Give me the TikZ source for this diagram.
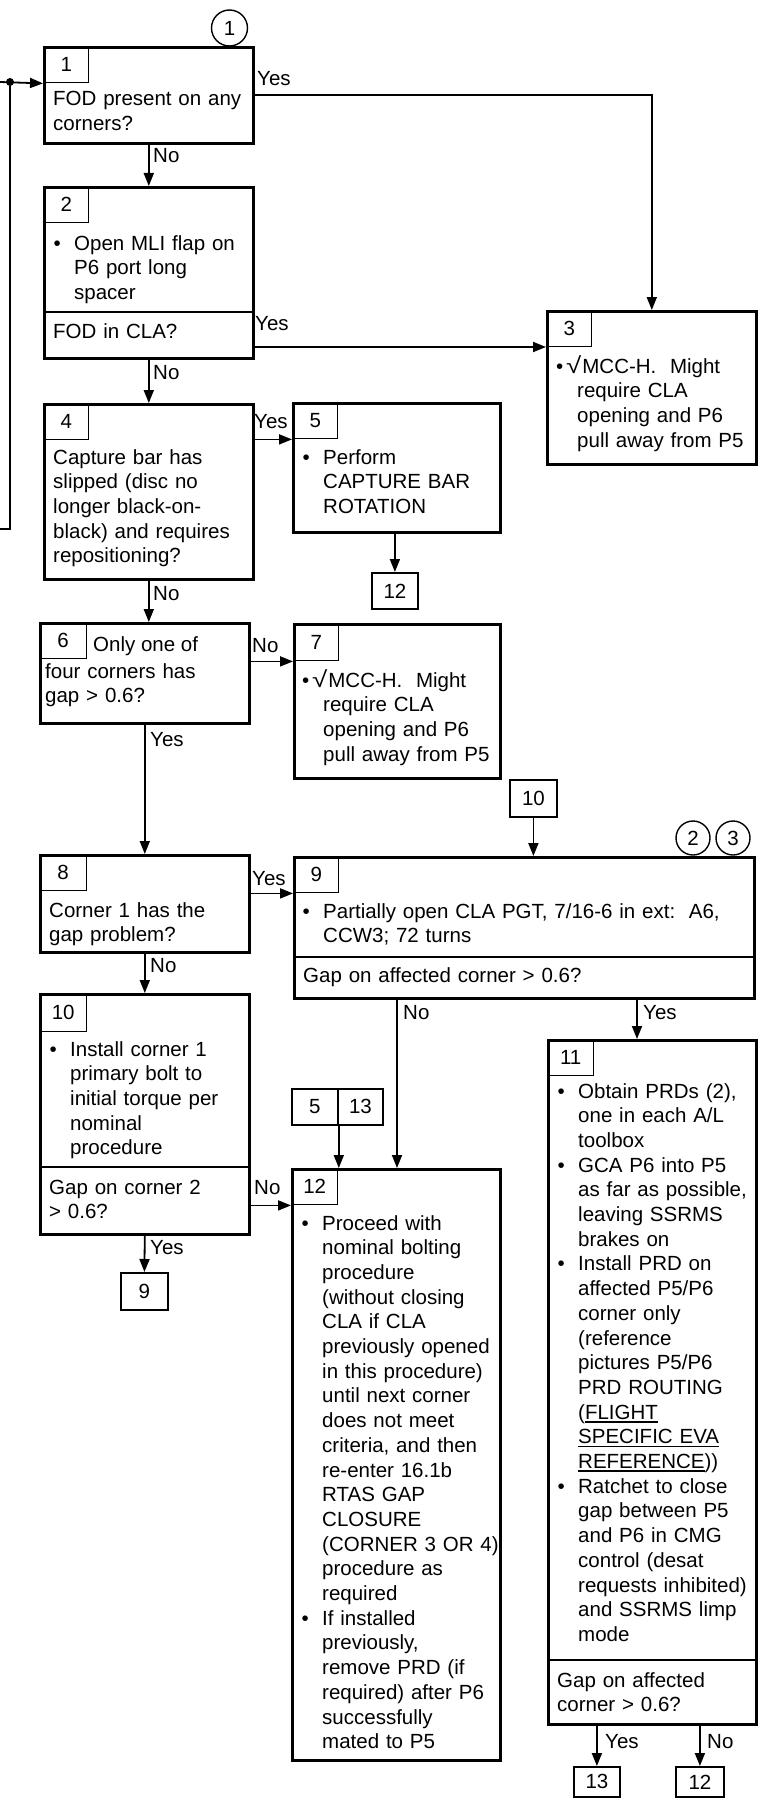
\documentclass[tikz,border=0pt]{standalone}
\usepackage{fontspec}
\usepackage{graphicx}
\setmainfont{Liberation Sans}
\usetikzlibrary{arrows.meta}
\newcommand\myul[1]{\leavevmode\setbox0=\hbox{#1}\rlap{\rule[-3.5pt]{\wd0}{1.6pt}}\box0}
\newcommand\bul{\leavevmode\llap{•\hspace{13.3pt}}}
\newcommand\chk{\leavevmode\hspace*{-21pt}\makebox[10pt][l]{•}\scalebox{1.35}[1.1]{√}\hspace{1pt}}
\begin{document}
\begin{tikzpicture}[x=1pt,y=-1pt,line join=miter,
  font=\fontsize{20.5}{24.7}\selectfont,
  box/.style={draw,line width=2.6pt,inner sep=0pt,anchor=north west},
  tabx/.style={draw,line width=1.4pt,inner sep=0pt,anchor=north west,minimum width=45pt,minimum height=36pt},
  ref/.style={draw,line width=1.8pt,inner sep=0pt,anchor=north west,minimum width=46pt,minimum height=36pt},
  txt/.style={anchor=base west,inner sep=0pt,text width=450pt,align=left},
  lbl/.style={anchor=base west,inner sep=0pt},
  arr/.style={line width=1.8pt,-{Triangle[length=13pt,width=10pt]}},
  ln/.style={line width=1.8pt},
  div/.style={line width=2.4pt},
  num/.style={circle,draw,line width=1.4pt,minimum size=36pt,inner sep=0pt}]
\useasboundingbox (0,0) rectangle (761,1806);

% ---------- boxes ----------
\node[box,minimum width=209pt,minimum height=96pt] (b1) at (43,46) {};
\node[tabx] (t1) at (b1.north west) {1};
\node[txt] (x1) at (53,106) {FOD present on any\\corners?};
\node[num] (c1) at (229.5,28) {1};

\node[box,minimum width=209pt,minimum height=171pt] (b2) at (43,186) {};
\node[tabx] (t2) at (b2.north west) {2};
\node[txt] (x2) at (74,250) {\bul Open MLI flap on\\P6 port long\\spacer};
\draw[div] (b2.west |- 0,312) -- (b2.east |- 0,312);
\node[txt] (x2b) at (53,338) {FOD in CLA?};

\node[box,minimum width=209pt,minimum height=153pt] (b3) at (546,310) {};
\node[tabx] (t3) at (b3.north west) {3};
\node[txt] (x3) at (577,373) {\chk MCC-H.\ \ Might\\require CLA\\opening and P6\\pull away from P5};

\node[box,minimum width=209pt,minimum height=175pt] (b4) at (43,403) {};
\node[tabx] (t4) at (b4.north west) {4};
\node[txt] (x4) at (53,464) {Capture bar has\\slipped (disc no\\longer black-on-\\black) and requires\\repositioning?};

\node[box,minimum width=207pt,minimum height=129pt] (b5) at (292,402) {};
\node[tabx] (t5) at (b5.north west) {5};
\node[txt] (x5) at (323,464) {\bul Perform\\CAPTURE BAR\\ROTATION};
\node[ref] (r12a) at (371,572) {12};

\node[box,minimum width=209pt,minimum height=100pt] (b6) at (39,622) {};
\node[tabx,minimum width=47pt] (t6) at (b6.north west) {6};
\node[lbl] (x6a) at (93,651) {Only one of};
\node[txt] (x6b) at (45,678) {four corners has\\gap > 0.6?};

\node[box,minimum width=206pt,minimum height=154pt] (b7) at (293,623) {};
\node[tabx,minimum height=37pt] (t7) at (b7.north west) {7};
\node[txt] (x7) at (323,687) {\chk MCC-H.\ \ Might\\require CLA\\opening and P6\\pull away from P5};

\node[box,minimum width=209pt,minimum height=97pt] (b8) at (39,854) {};
\node[tabx,minimum width=47pt] (t8) at (b8.north west) {8};
\node[txt] (x8) at (49,917) {Corner 1 has the\\gap problem?};

\node[ref,minimum width=47pt,minimum height=37pt] (r10) at (509,779) {10};
\node[box,minimum width=460pt,minimum height=141pt] (b9) at (293,856) {};
\node[tabx] (t9) at (b9.north west) {9};
\node[num,minimum size=34pt] (c2) at (693,838) {2};
\node[num,minimum size=34pt] (c3) at (733,838) {3};
\node[txt] (x9) at (323,918) {\bul Partially open CLA PGT, 7/16-6 in ext:\ \ A6,\\CCW3; 72 turns};
\draw[div] (b9.west |- 0,957) -- (b9.east |- 0,957);
\node[txt] (x9b) at (303,982) {Gap on affected corner > 0.6?};

\node[box,minimum width=209pt,minimum height=240pt] (b10) at (39,993) {};
\node[tabx,minimum width=47pt,minimum height=38pt] (t10) at (b10.north west) {10};
\node[txt] (x10) at (70,1056) {\bul Install corner 1\\primary bolt to\\initial torque per\\nominal\\procedure};
\draw[div] (b10.west |- 0,1167) -- (b10.east |- 0,1167);
\node[txt] (x10b) at (49,1194) {Gap on corner 2\\> 0.6?};
\node[ref,minimum width=47pt,minimum height=37pt] (r9) at (120,1272) {9};

\node[ref] (r5) at (291,1088) {5};
\node[ref,minimum width=45pt] (r13a) at (337,1088) {13};

\node[box,minimum width=208pt,minimum height=591pt] (b12) at (291,1168) {};
\node[tabx,minimum width=46pt] (t12) at (b12.north west) {12};
\node[txt] (x12) at (322,1230) {\bul Proceed with\\nominal bolting\\procedure\\(without closing\\CLA if CLA\\previously opened\\in this procedure)\\until next corner\\does not meet\\criteria, and then\\re-enter 16.1b\\RTAS GAP\\CLOSURE\\(CORNER 3 OR 4)\\procedure as\\required\\\bul If installed\\previously,\\remove PRD (if\\required) after P6\\successfully\\mated to P5};

\node[box,minimum width=208pt,minimum height=684pt] (b11) at (547,1039) {};
\node[tabx,minimum width=46pt] (t11) at (b11.north west) {11};
\node[txt] (x11) at (578,1098) {\bul Obtain PRDs (2),\\one in each A/L\\toolbox\\\bul GCA P6 into P5\\as far as possible,\\leaving SSRMS\\brakes on\\\bul Install PRD on\\affected P5/P6\\corner only\\(reference\\pictures P5/P6\\PRD ROUTING\\(\myul{FLIGHT}\\\myul{SPECIFIC EVA}\\\myul{REFERENCE}))\\\bul Ratchet to close\\gap between P5\\and P6 in CMG\\control (desat\\requests inhibited)\\and SSRMS limp\\mode};
\draw[div] (b11.west |- 0,1660) -- (b11.east |- 0,1660);
\node[txt] (x11b) at (557,1687) {Gap on affected\\corner > 0.6?};
\node[ref,minimum height=30pt] (r13) at (573,1766) {13};
\node[ref,minimum width=48pt,minimum height=30pt] (r12b) at (675,1766) {12};

% ---------- left loop ----------
\coordinate (L1) at (0,82);
\coordinate (L2) at (0,529);
\node[circle,fill,inner sep=0pt,minimum size=8pt] (dot) at (10,82) {};
\draw[arr] (L1) -- (t1.south west);
\draw[ln] (L2) -| (dot);

% ---------- connectors ----------
\draw[arr] (b1.east) -| (b3.north);
\node[lbl] (y1) at (257,86) {Yes};
\draw[arr] (b1.south) -- (b2.north);
\node[lbl] (n1) at (153,163) {No};

\draw[arr] (b2.east |- 0,347) -- (b3.west |- 0,347);
\node[lbl] (y2) at (255,330) {Yes};
\draw[arr] (b2.south) -- (b4.north);
\node[lbl] (n2) at (153,379) {No};

\draw[arr] (b4.east |- t5.south west) -- (t5.south west);
\node[lbl] (y4) at (254,428) {Yes};
\draw[arr] (r12a.north |- b5.south) -- (r12a.north);
\draw[arr] (b4.south) -- (b4.south |- b6.north);
\node[lbl] (n4) at (153,600) {No};

\draw[arr] (b6.east |- t7.south west) -- (t7.south west);
\node[lbl] (n6) at (252,652) {No};
\draw[arr] (b6.south) -- (b8.north);
\node[lbl] (y6) at (150,746) {Yes};

\draw[arr] (b8.east |- t9.south west) -- (t9.south west);
\node[lbl] (y8) at (252,885) {Yes};
\draw[arr] (b8.south) -- (b10.north);
\node[lbl] (n8) at (150,972) {No};

\draw[arr] (r10.south) -- (r10.south |- b9.north);
\draw[arr] ([xshift=104pt]b9.south west) -- ([xshift=104pt]b9.south west |- b12.north);
\node[lbl] (n9) at (403,1019) {No};
\draw[arr] ([xshift=344pt]b9.south west) -- ([xshift=344pt]b9.south west |- b11.north);
\node[lbl] (y9) at (643,1019) {Yes};

\draw[arr] (b10.east |- t12.south west) -- (t12.south west);
\node[lbl] (n10) at (254,1194) {No};
\draw[arr] (b10.south) -- (r9.north);
\node[lbl] (y10) at (150,1254) {Yes};

\draw[arr] (r5.south east) -- (r5.south east |- b12.north);

\draw[arr] (r13.north |- b11.south) -- (r13.north);
\node[lbl] (y11) at (605,1748) {Yes};
\draw[arr] (r12b.north |- b11.south) -- (r12b.north);
\node[lbl] (n11) at (707,1748) {No};
\end{tikzpicture}
\end{document}
